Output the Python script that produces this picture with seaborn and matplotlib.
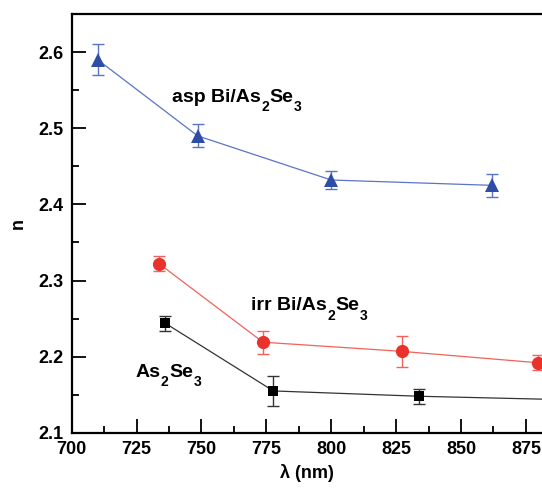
import matplotlib
matplotlib.use("Agg")
import matplotlib.pyplot as plt
from matplotlib.ticker import MultipleLocator
import seaborn as sns
import pandas as pd

# ---- data ----
asp_x = [710, 748.5, 800, 862]
asp_n = [2.590, 2.490, 2.432, 2.425]
asp_err = [0.020, 0.015, 0.012, 0.015]

irr_x = [733.7, 773.7, 827.1, 879.7]
irr_n = [2.322, 2.219, 2.207, 2.192]
irr_err = [0.010, 0.015, 0.020, 0.010]

base_x = [736, 777.7, 834, 890]
base_n = [2.244, 2.155, 2.148, 2.1435]
base_err = [0.010, 0.020, 0.010, 0.010]

x_ticks = [700, 725, 750, 775, 800, 825, 850, 875]
y_ticks = [2.1, 2.2, 2.3, 2.4, 2.5, 2.6]

sns.set_style("ticks")
plt.rcParams['font.family'] = ['Liberation Sans', 'DejaVu Sans']
for k in ["text.color", "axes.labelcolor", "xtick.color", "ytick.color", "axes.edgecolor"]:
    plt.rcParams[k] = "black"

fig = plt.figure(figsize=(5.42, 4.92), dpi=100)
ax = fig.add_axes([0.1323, 0.1203, 1.0 - 0.1323, 0.9715 - 0.1203])

series = [
    (asp_x, asp_n, asp_err, "^", "#2E4DA7", "#5B74C6", 10.5),
    (irr_x, irr_n, irr_err, "o", "#E8322B", "#F0625C", 9.5),
    (base_x, base_n, base_err, "s", "#000000", "#333333", 6.5),
]
for xs, ns, es, mk, mc, lc, ms in series:
    df = pd.DataFrame({"x": xs, "n": ns})
    ax.errorbar(xs, ns, yerr=es, fmt="none", ecolor=lc, elinewidth=1.0,
                capsize=4, capthick=1.0, zorder=2)
    sns.lineplot(data=df, x="x", y="n", ax=ax, color=lc, linewidth=0.9,
                 marker=mk, markersize=ms, markerfacecolor=mc,
                 markeredgecolor=mc, markeredgewidth=0, zorder=3)

ax.set_xlim(700, 881.2)
ax.set_ylim(2.1, 2.65)
ax.set_xticks(x_ticks)
ax.set_yticks(y_ticks)
ax.xaxis.set_minor_locator(MultipleLocator(12.5))
ax.yaxis.set_minor_locator(MultipleLocator(0.05))
ax.tick_params(which="major", direction="in", length=10, width=1.3,
               labelsize=13, pad=6, top=False, right=False, colors="black")
ax.tick_params(which="minor", direction="in", length=5, width=1.3,
               top=False, right=False, colors="black")
ax.set_xticklabels([str(v) for v in x_ticks], fontweight="bold")
ax.set_yticklabels([f"{v:.1f}" for v in y_ticks], fontweight="bold")

for s in ["left", "bottom", "top"]:
    ax.spines[s].set_linewidth(1.6)
    ax.spines[s].set_color("black")
ax.spines["right"].set_visible(False)

ax.set_xlabel("λ (nm)", fontsize=13, fontweight="bold", labelpad=4)
ax.set_ylabel("n", fontsize=13, fontweight="bold", labelpad=8)

MAIN = 14
SUB = 10


def chem_label(x, y, pieces):
    """pieces: list of (text, is_subscript). Draw on a common baseline."""
    base = ax.text(x, y, pieces[0][0], fontsize=MAIN, fontweight="bold",
                   va="baseline", ha="left")
    prev = base
    for txt, sub in pieces[1:]:
        if sub:
            prev = ax.annotate(txt, xy=(1, 0), xycoords=(prev, base),
                               xytext=(0.3, -6.3), textcoords="offset points",
                               fontsize=SUB, fontweight="bold",
                               va="bottom", ha="left")
        else:
            prev = ax.annotate(txt, xy=(1, 0), xycoords=(prev, base),
                               xytext=(0.3, 0), textcoords="offset points",
                               fontsize=MAIN, fontweight="bold",
                               va="bottom", ha="left")


chem_label(738.6, 2.535, [("asp Bi/As", False), ("2", True), ("Se", False), ("3", True)])
chem_label(769.2, 2.2614, [("irr Bi/As", False), ("2", True), ("Se", False), ("3", True)])
chem_label(724.6, 2.1737, [("As", False), ("2", True), ("Se", False), ("3", True)])

fig.savefig("out.png", dpi=100)
